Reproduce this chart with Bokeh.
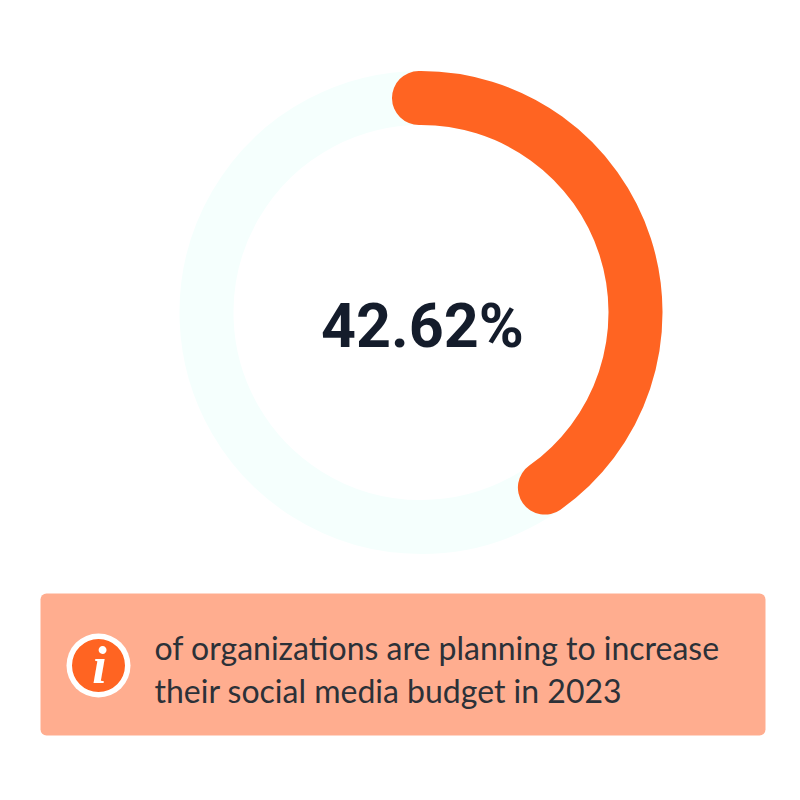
from math import pi

from bokeh.core.properties import value
from bokeh.embed import file_html
from bokeh.models import Range1d
from bokeh.plotting import figure
from bokeh.resources import INLINE

# values
label = "42.62%"
start_share = [-0.15]  # the round cap starts a hair left of twelve o'clock
drawn_share = [40.2]   # the arc stops short of the printed value in the original
track_share = [100.0]
caption = ["of organizations are planning to increase", "their social media budget in 2023"]

ORANGE = "#ff6422"
TRACK = "#f5fffd"
BOX = "#ffad8f"
INK = "#141c2b"
TEXT = "#2c3138"

# ranges are set up so one data unit is one pixel of the 800x800 screenshot
p = figure(width=784, height=784, output_backend="svg", toolbar_location=None, tools="",
           x_range=Range1d(1, 785), y_range=Range1d(15, 799),
           min_border=0, outline_line_color=None)
p.axis.visible = False
p.grid.visible = False

cx, cy, r, ring = 421.5, 487, 214.5, 54


def sweep(share):
    return pi / 2 - 2 * pi * share / 100


# donut
p.arc(x=[cx], y=[cy], radius=r, start_angle=pi / 2, end_angle=sweep(track_share[0] - 0.001),
      direction="clock", line_color=TRACK, line_width=ring)
p.arc(x=[cx], y=[cy], radius=r, start_angle=sweep(start_share[0]), end_angle=sweep(drawn_share[0]),
      direction="clock", line_color=ORANGE, line_width=ring, line_cap="round")
p.text(x=[423], y=[474], text=[label], text_align="center", text_baseline="middle",
       text_font=value("Roboto"), text_font_style="bold", text_font_size="61px", text_color=INK)

# caption box
p.quad(left=[41], right=[766], top=[206], bottom=[64], fill_color=BOX, line_color=None, border_radius=6)
p.circle(x=[99], y=[134], radius=32, fill_color="white", line_color=None)
p.circle(x=[99], y=[134], radius=26.5, fill_color=ORANGE, line_color=None)
p.text(x=[100], y=[134], text=["i"], text_align="center", text_baseline="middle",
       text_font=value("Liberation Serif"), text_font_style="bold italic", text_font_size="52px",
       text_color="white")
p.text(x=[155, 155], y=[152, 109], text=caption, text_align="left", text_baseline="middle",
       text_font=value("Lato"), text_font_size="32px", text_color=TEXT)

open("out.html", "w").write(file_html(p, INLINE))
